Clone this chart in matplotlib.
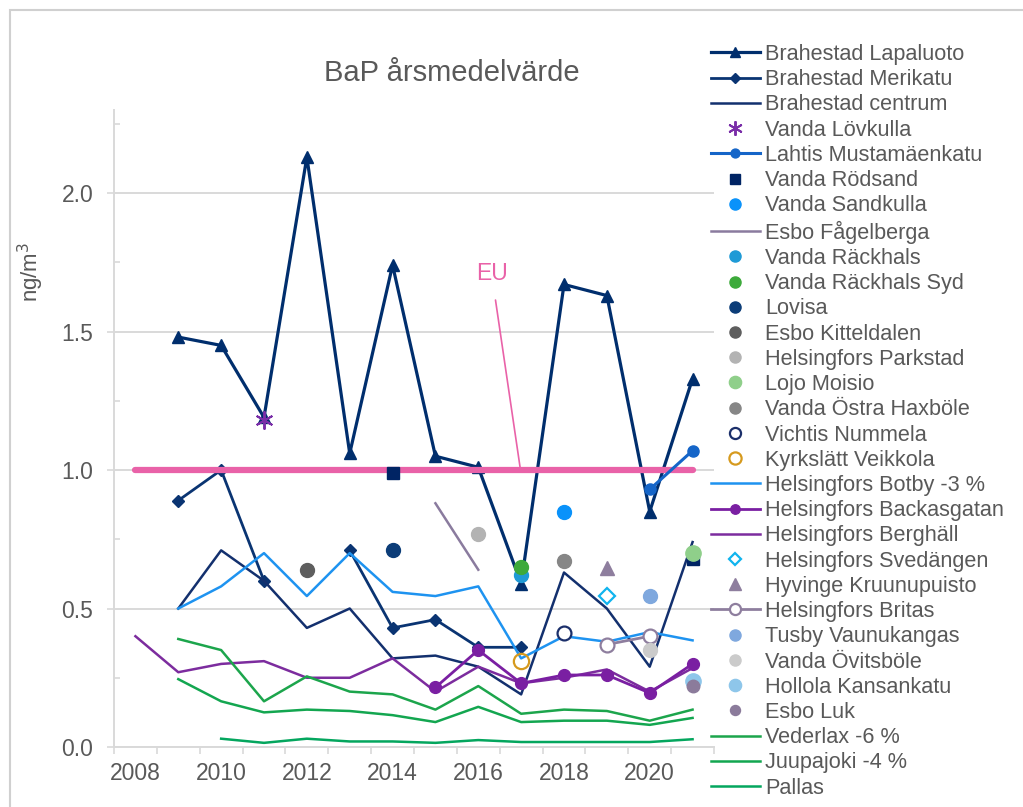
import numpy as np
import matplotlib
matplotlib.use('Agg')
import matplotlib.pyplot as plt
from matplotlib.patches import Rectangle
from matplotlib.ticker import MultipleLocator, FixedLocator, NullFormatter

plt.rcParams['font.family'] = ['Liberation Sans', 'DejaVu Sans']

nan = np.nan
years = np.arange(2008, 2022)

# full series (2008..2021), nan = no measurement
lapaluoto = [nan, 1.48, 1.45, 1.19, 2.13, 1.06, 1.74, 1.05, 1.01, 0.59, 1.67, 1.63, 0.85, 1.33]
merikatu = [nan, 0.89, 1.00, 0.60, nan, 0.71, 0.43, 0.46, 0.36, 0.36, nan, nan, nan, nan]
centrum = [nan, 0.50, 0.71, 0.60, 0.43, 0.50, 0.32, 0.33, 0.29, 0.19, 0.63, 0.50, 0.29, 0.74]
botby = [nan, 0.50, 0.58, 0.70, 0.545, 0.70, 0.56, 0.545, 0.58, 0.32, 0.40, 0.38, 0.415, 0.385]
backasgatan = [nan, nan, nan, nan, nan, nan, nan, 0.215, 0.35, 0.23, 0.26, 0.26, 0.195, 0.30]
berghall = [0.40, 0.27, 0.30, 0.31, 0.25, 0.25, 0.32, 0.20, 0.29, 0.23, 0.25, 0.28, 0.20, 0.285]
vederlax = [nan, 0.39, 0.35, 0.165, 0.255, 0.20, 0.19, 0.135, 0.22, 0.12, 0.135, 0.13, 0.095, 0.135]
juupajoki = [nan, 0.245, 0.165, 0.125, 0.135, 0.13, 0.115, 0.09, 0.145, 0.09, 0.095, 0.095, 0.08, 0.105]
pallas = [nan, nan, 0.03, 0.015, 0.03, 0.02, 0.02, 0.015, 0.025, 0.018, 0.018, 0.018, 0.018, 0.028]
eu_limit = [1.0] * 14

# sparse stations: years, values
lovkulla_x, lovkulla_y = [2011], [1.18]
lahtis_x, lahtis_y = [2020, 2021], [0.93, 1.07]
rodsand_x, rodsand_y = [2014, 2021], [0.99, 0.68]
sandkulla_x, sandkulla_y = [2018], [0.85]
fagelberga_x, fagelberga_y = [2015, 2016], [0.88, 0.64]
rackhals_x, rackhals_y = [2017], [0.62]
rackhals_syd_x, rackhals_syd_y = [2017], [0.65]
lovisa_x, lovisa_y = [2014], [0.71]
kitteldalen_x, kitteldalen_y = [2012], [0.64]
parkstad_x, parkstad_y = [2016], [0.77]
lojo_x, lojo_y = [2021], [0.70]
haxbole_x, haxbole_y = [2018], [0.67]
nummela_x, nummela_y = [2018], [0.41]
veikkola_x, veikkola_y = [2017], [0.31]
svedangen_x, svedangen_y = [2019], [0.545]
hyvinge_x, hyvinge_y = [2019], [0.645]
britas_x, britas_y = [2019, 2020], [0.37, 0.40]
tusby_x, tusby_y = [2020], [0.545]
ovitsbole_x, ovitsbole_y = [2020], [0.35]
hollola_x, hollola_y = [2021], [0.24]
esboluk_x, esboluk_y = [2021], [0.22]

fig = plt.figure(figsize=(10.23, 8.07), dpi=100)
ax = fig.add_axes([114/1023, 1-747/807, 600/1023, 637/807])

ax.plot(years, lapaluoto, color='#002E6D', lw=2.3, marker='^', ms=8.5, label='Brahestad Lapaluoto', zorder=2)
ax.plot(years, merikatu, color='#0A3472', lw=2.0, marker='D', ms=6.5, label='Brahestad Merikatu', zorder=2)
ax.plot(years, centrum, color='#13306E', lw=1.8, label='Brahestad centrum', zorder=2)
ax.plot(lovkulla_x, lovkulla_y, ls='none', marker=(6, 2, 0), ms=13, mew=1.4, color='#7A2EA8', label='Vanda Lövkulla', zorder=4)
ax.plot(lahtis_x, lahtis_y, color='#1565C8', lw=2.2, marker='o', ms=8, label='Lahtis Mustamäenkatu', zorder=4)
ax.plot(rodsand_x, rodsand_y, ls='none', marker='s', ms=8.5, color='#002464', label='Vanda Rödsand', zorder=4)
ax.plot(sandkulla_x, sandkulla_y, ls='none', marker='o', ms=10, color='#0A92FA', label='Vanda Sandkulla', zorder=4)
ax.plot(fagelberga_x, fagelberga_y, color='#8A7B9E', lw=1.8, label='Esbo Fågelberga', zorder=2)
ax.plot(rackhals_x, rackhals_y, ls='none', marker='o', ms=10, color='#1E9AD6', label='Vanda Räckhals', zorder=4)
ax.plot(rackhals_syd_x, rackhals_syd_y, ls='none', marker='o', ms=10, color='#3DAA3B', label='Vanda Räckhals Syd', zorder=4)
ax.plot(lovisa_x, lovisa_y, ls='none', marker='o', ms=10, color='#0C3D78', label='Lovisa', zorder=4)
ax.plot(kitteldalen_x, kitteldalen_y, ls='none', marker='o', ms=10, color='#5E5E5E', label='Esbo Kitteldalen', zorder=4)
ax.plot(parkstad_x, parkstad_y, ls='none', marker='o', ms=10, color='#B3B3B3', label='Helsingfors Parkstad', zorder=4)
ax.plot(lojo_x, lojo_y, ls='none', marker='o', ms=11, color='#8FCF8A', label='Lojo Moisio', zorder=4)
ax.plot(haxbole_x, haxbole_y, ls='none', marker='o', ms=10, color='#868686', label='Vanda Östra Haxböle', zorder=4)
ax.plot(nummela_x, nummela_y, ls='none', marker='o', ms=10, mfc='white', mec='#1B2F6A', mew=1.6, label='Vichtis Nummela', zorder=4)
ax.plot(veikkola_x, veikkola_y, ls='none', marker='o', ms=11, mfc='none', mec='#D69A1E', mew=1.6, label='Kyrkslätt Veikkola', zorder=4)
ax.plot(years, botby, color='#1E93F0', lw=1.8, label='Helsingfors Botby -3 %', zorder=2)
ax.plot(years, backasgatan, color='#7A1FA2', lw=2.0, marker='o', ms=8.5, label='Helsingfors Backasgatan', zorder=3)
ax.plot(years, berghall, color='#7C2C9E', lw=1.8, label='Helsingfors Berghäll', zorder=2)
ax.plot(svedangen_x, svedangen_y, ls='none', marker='D', ms=8, mfc='white', mec='#10B4EE', mew=1.6, label='Helsingfors Svedängen', zorder=4)
ax.plot(hyvinge_x, hyvinge_y, ls='none', marker='^', ms=10, color='#8E7E9E', label='Hyvinge Kruunupuisto', zorder=4)
ax.plot(britas_x, britas_y, color='#8E7E9E', lw=2.0, marker='o', ms=10, mfc='white', mew=1.6, label='Helsingfors Britas', zorder=4)
ax.plot(tusby_x, tusby_y, ls='none', marker='o', ms=10, color='#7FA8DE', label='Tusby Vaunukangas', zorder=4)
ax.plot(ovitsbole_x, ovitsbole_y, ls='none', marker='o', ms=10, color='#CBCBCB', label='Vanda Övitsböle', zorder=4)
ax.plot(hollola_x, hollola_y, ls='none', marker='o', ms=11, color='#8EC6EA', label='Hollola Kansankatu', zorder=4)
ax.plot(esboluk_x, esboluk_y, ls='none', marker='o', ms=9, color='#8B7B9B', label='Esbo Luk', zorder=4)
ax.plot(years, vederlax, color='#1CA54C', lw=1.8, label='Vederlax -6 %', zorder=2)
ax.plot(years, juupajoki, color='#13A650', lw=1.8, label='Juupajoki -4 %', zorder=2)
ax.plot(years, pallas, color='#04A65E', lw=1.8, label='Pallas', zorder=2)

ax.plot(years, eu_limit, color='#E962A8', lw=4.5, solid_capstyle='round', zorder=2.5)
ax.annotate('EU', xy=(2016.98, 1.005), xytext=(2016.31, 1.71), color='#E962A8', fontsize=16.5,
            ha='center', va='center',
            arrowprops=dict(arrowstyle='-', color='#E962A8', lw=1.2, shrinkA=9, shrinkB=0))

ax.set_xlim(2007.5, 2021.5)
ax.set_ylim(0, 2.3)
ax.xaxis.set_major_locator(FixedLocator(list(range(2008, 2021, 2))))
ax.xaxis.set_minor_locator(FixedLocator(list(np.arange(2007.5, 2022, 1.0))))
ax.xaxis.set_minor_formatter(NullFormatter())
ax.tick_params(axis='x', which='major', length=0, pad=11, labelsize=16.5, labelcolor='#595959')
ax.tick_params(axis='x', which='minor', length=5, width=1.2, color='#D9D9D9', direction='out')
ax.yaxis.set_major_locator(MultipleLocator(0.5))
ax.yaxis.set_minor_locator(MultipleLocator(0.25))
ax.yaxis.set_major_formatter(matplotlib.ticker.FormatStrFormatter('%.1f'))
ax.tick_params(axis='y', which='major', length=5, width=1.2, color='#D9D9D9', direction='out',
               pad=10, labelsize=16.5, labelcolor='#595959')
ax.tick_params(axis='y', which='minor', length=4, width=1.2, color='#D9D9D9', direction='in')
ax.grid(axis='y', which='major', color='#D9D9D9', lw=1.4)
ax.set_axisbelow(True)
for s in ['top', 'right']:
    ax.spines[s].set_visible(False)
for s in ['left', 'bottom']:
    ax.spines[s].set_color('#D9D9D9')
    ax.spines[s].set_linewidth(1.4)

fig.text(452/1023, 1-73/807, 'BaP årsmedelvärde', fontsize=21, color='#595959', ha='center', va='center')
fig.text(31/1023, 1-272/807, 'ng/m$^3$', fontsize=16, color='#595959', rotation=90, ha='center', va='center')

fig.legend(loc='upper left', bbox_to_anchor=(711/1023, 1-44/807), frameon=False, fontsize=15.6,
           labelcolor='#595959', handlelength=2.25, handletextpad=0.25, labelspacing=0.195,
           borderaxespad=0, borderpad=0, markerscale=0.8)

fig.add_artist(Rectangle((10/1023, -0.1), 1.2, 1.1 - 10/807, transform=fig.transFigure,
                         fill=False, edgecolor='#D0D0D0', lw=1.5))

fig.savefig('out.png', dpi=100)
